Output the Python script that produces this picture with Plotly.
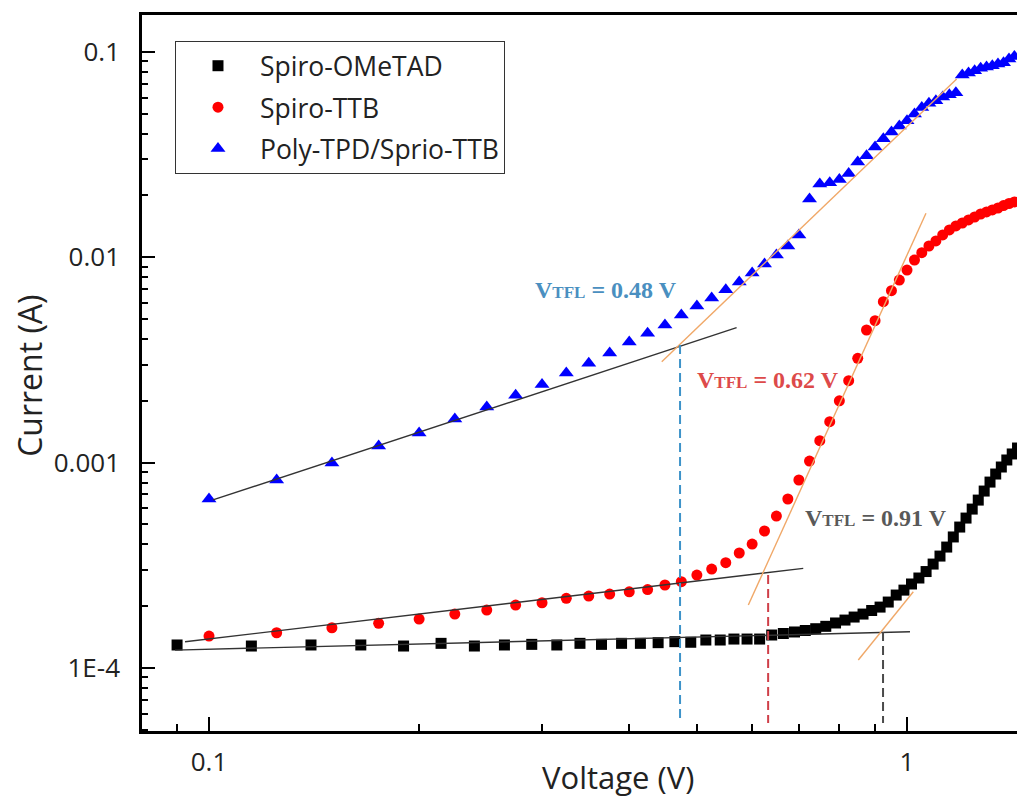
import math
import plotly.graph_objects as go

# ---------------- data ----------------
V_spiro = [0.09, 0.115, 0.14, 0.165, 0.19, 0.215, 0.24, 0.265, 0.29, 0.315, 0.34, 0.365, 0.39, 0.415,
           0.44, 0.465, 0.49, 0.515, 0.54, 0.565, 0.59, 0.615, 0.64, 0.665, 0.69, 0.715, 0.74, 0.765,
           0.79, 0.815, 0.84, 0.865, 0.89, 0.915, 0.94, 0.965, 0.99, 1.015, 1.04, 1.065, 1.09, 1.115,
           1.14, 1.165, 1.19, 1.215, 1.24, 1.265, 1.29, 1.315, 1.34, 1.365, 1.39, 1.415, 1.44]
I_spiro = [1.294e-4, 1.279e-4, 1.294e-4, 1.294e-4, 1.279e-4, 1.318e-4, 1.279e-4, 1.294e-4, 1.303e-4,
           1.294e-4, 1.318e-4, 1.303e-4, 1.318e-4, 1.318e-4, 1.328e-4, 1.343e-4, 1.334e-4, 1.368e-4,
           1.368e-4, 1.383e-4, 1.383e-4, 1.383e-4, 1.447e-4, 1.472e-4, 1.497e-4, 1.522e-4, 1.553e-4,
           1.595e-4, 1.656e-4, 1.711e-4, 1.770e-4, 1.830e-4, 1.905e-4, 1.979e-4, 2.094e-4, 2.265e-4,
           2.394e-4, 2.564e-4, 2.742e-4, 2.948e-4, 3.206e-4, 3.507e-4, 3.88e-4, 4.345e-4, 4.856e-4,
           5.37e-4, 5.94e-4, 6.57e-4, 7.27e-4, 8.04e-4, 8.80e-4, 9.52e-4, 1.030e-3, 1.102e-3, 1.178e-3]

V_ttb = [0.1, 0.125, 0.15, 0.175, 0.2, 0.225, 0.25, 0.275, 0.3, 0.325, 0.35, 0.375, 0.4, 0.425, 0.45,
         0.475, 0.5, 0.525, 0.55, 0.575, 0.6, 0.625, 0.65, 0.675, 0.7, 0.725, 0.75, 0.775, 0.8, 0.825,
         0.85, 0.875, 0.9, 0.925, 0.95, 0.975, 1.0, 1.025, 1.05, 1.075, 1.1, 1.125, 1.15, 1.175, 1.2,
         1.225, 1.25, 1.275, 1.3, 1.325, 1.35, 1.375, 1.4, 1.425]
I_ttb = [1.430e-4, 1.484e-4, 1.570e-4, 1.650e-4, 1.730e-4, 1.830e-4, 1.914e-4, 2.025e-4, 2.078e-4,
         2.183e-4, 2.24e-4, 2.29e-4, 2.35e-4, 2.41e-4, 2.535e-4, 2.63e-4, 2.835e-4, 3.03e-4, 3.255e-4,
         3.63e-4, 4.01e-4, 4.645e-4, 5.495e-4, 6.65e-4, 8.23e-4, 1.018e-3, 1.279e-3, 1.582e-3, 2.001e-3,
         2.506e-3, 3.22e-3, 4.425e-3, 4.91e-3, 6.08e-3, 6.88e-3, 7.75e-3, 8.67e-3, 9.70e-3, 1.053e-2,
         1.135e-2, 1.201e-2, 1.285e-2, 1.359e-2, 1.421e-2, 1.469e-2, 1.520e-2, 1.571e-2, 1.625e-2,
         1.663e-2, 1.700e-2, 1.738e-2, 1.787e-2, 1.828e-2, 1.860e-2]

V_poly = list(V_ttb)
I_poly = [6.65e-4, 8.22e-4, 9.95e-4, 1.205e-3, 1.394e-3, 1.63e-3, 1.866e-3, 2.13e-3, 2.40e-3, 2.73e-3,
          3.05e-3, 3.42e-3, 3.87e-3, 4.27e-3, 4.68e-3, 5.24e-3, 5.79e-3, 6.34e-3, 6.94e-3, 7.59e-3,
          8.39e-3, 9.28e-3, 1.026e-2, 1.135e-2, 1.285e-2, 1.923e-2, 2.275e-2, 2.308e-2, 2.393e-2,
          2.559e-2, 2.912e-2, 3.126e-2, 3.44e-2, 3.78e-2, 4.076e-2, 4.36e-2, 4.63e-2, 4.99e-2, 5.37e-2,
          5.62e-2, 5.78e-2, 6.04e-2, 6.19e-2, 6.33e-2, 7.73e-2, 7.90e-2, 8.10e-2, 8.32e-2, 8.45e-2,
          8.57e-2, 8.74e-2, 8.86e-2, 9.25e-2, 9.51e-2]

# fitted lines (two end points each)
fit_poly_ohm_V = [0.1013, 0.570]
fit_poly_ohm_I = [6.58e-4, 4.54e-3]
fit_poly_tfl_V = [0.4453, 1.178]
fit_poly_tfl_I = [3.101e-3, 7.387e-2]
fit_ttb_ohm_V = [0.0924, 0.7101]
fit_ttb_ohm_I = [1.341e-4, 3.055e-4]
fit_ttb_tfl_V = [0.5925, 1.0646]
fit_ttb_tfl_I = [2.025e-4, 1.638e-2]
fit_spiro_ohm_V = [0.0894, 1.0099]
fit_spiro_ohm_I = [1.222e-4, 1.501e-4]
fit_spiro_tfl_V = [0.8516, 1.021]
fit_spiro_tfl_I = [1.093e-4, 2.35e-4]

# V_TFL markers
vtfl_V = [0.473, 0.6325, 0.924]
vtfl_top = [3.74e-3, 2.835e-4, 1.496e-4]
vtfl_bottom = 5.4e-5
vtfl_labels = ["0.48", "0.62", "0.91"]
vtfl_label_V = [0.3706, 0.6332, 0.9013]
vtfl_label_I = [6.93e-3, 2.526e-3, 5.375e-4]
vtfl_colors = ["#3d93c9", "#cf3f48", "#4a4a4a"]
vtfl_text_colors = ["#4a8fc0", "#dd4a4a", "#595959"]

x_major = [0.1, 1]
x_major_text = ["0.1", "1"]
x_minor = [0.09, 0.2, 0.3, 0.4, 0.5, 0.6, 0.7, 0.8, 0.9]
y_major = [1e-4, 1e-3, 1e-2, 1e-1]
y_major_text = ["1E-4", "0.001", "0.01", "0.1"]
y_minor = [m * 10.0 ** e for e in (-5, -4, -3, -2) for m in range(2, 10) if 5e-5 <= m * 10.0 ** e <= 0.15]

FONT = "Open Sans"

fig = go.Figure()

fig.add_trace(go.Scatter(x=V_spiro, y=I_spiro, mode="markers", name="Spiro-OMeTAD", legendgroup="a",
                         marker=dict(symbol="square", size=11, color="black")))
fig.add_trace(go.Scatter(x=V_ttb, y=I_ttb, mode="markers", name="Spiro-TTB", legendgroup="b",
                         marker=dict(symbol="circle", size=11, color="#ff0000")))
fig.add_trace(go.Scatter(x=V_poly, y=I_poly, mode="markers", name="Poly-TPD/Sprio-TTB", legendgroup="c",
                         marker=dict(symbol="triangle-up", size=13, color="#0000ff")))

for xv, yv, col in [(fit_poly_ohm_V, fit_poly_ohm_I, "#333333"),
                    (fit_poly_tfl_V, fit_poly_tfl_I, "#f0a868"),
                    (fit_ttb_ohm_V, fit_ttb_ohm_I, "#333333"),
                    (fit_ttb_tfl_V, fit_ttb_tfl_I, "#f0a868"),
                    (fit_spiro_ohm_V, fit_spiro_ohm_I, "#333333"),
                    (fit_spiro_tfl_V, fit_spiro_tfl_I, "#f0a868")]:
    fig.add_trace(go.Scatter(x=xv, y=yv, mode="lines", showlegend=False, hoverinfo="skip",
                             line=dict(color=col, width=1.4)))

for v, top, col in zip(vtfl_V, vtfl_top, vtfl_colors):
    fig.add_trace(go.Scatter(x=[v, v], y=[top, vtfl_bottom], mode="lines", showlegend=False,
                             hoverinfo="skip", line=dict(color=col, width=2, dash="9px,5px")))

annotations = []
for lab, lv, li, col in zip(vtfl_labels, vtfl_label_V, vtfl_label_I, vtfl_text_colors):
    annotations.append(dict(
        x=math.log10(lv), y=math.log10(li), xref="x", yref="y", showarrow=False,
        text=f"<b>V<span style='font-size:17px'>TFL</span> = {lab} V</b>",
        font=dict(family="Liberation Serif", size=24, color=col),
        xanchor="center", yanchor="middle"))

annotations.append(dict(x=0.544, y=-0.064, xref="paper", yref="paper", showarrow=False,
                        text="Voltage (V)", font=dict(family=FONT, size=31, color="#222"),
                        xanchor="center", yanchor="middle"))
annotations.append(dict(x=-0.128, y=0.496, xref="paper", yref="paper", showarrow=False,
                        text="Current (A)", textangle=-90, font=dict(family=FONT, size=32, color="#222"),
                        xanchor="center", yanchor="middle"))

fig.update_layout(
    width=1017, height=800,
    margin=dict(l=142, r=0, t=15, b=69),
    paper_bgcolor="white", plot_bgcolor="white",
    font=dict(family=FONT, color="#222"),
    showlegend=True,
    legend=dict(x=0.0377, y=0.9637, xanchor="left", yanchor="top",
                bordercolor="#333", borderwidth=1, bgcolor="white",
                font=dict(family=FONT, size=26.5, color="#222"),
                itemwidth=74, tracegroupgap=4),
    annotations=annotations,
    xaxis=dict(type="log", range=[-1.096, 0.1576], showgrid=False, zeroline=False,
               showline=True, linecolor="black", linewidth=2.5, mirror=True,
               tickmode="array", tickvals=x_major, ticktext=x_major_text,
               ticks="inside", ticklen=14, tickwidth=2.2, tickcolor="black",
               tickfont=dict(family=FONT, size=26, color="#222"), ticklabelstandoff=6,
               minor=dict(tickmode="array", tickvals=x_minor, ticks="inside", ticklen=7,
                          tickwidth=2.2, tickcolor="black", showgrid=False)),
    yaxis=dict(type="log", range=[-4.307, -0.82], showgrid=False, zeroline=False,
               showline=True, linecolor="black", linewidth=2.5, mirror=False,
               tickmode="array", tickvals=y_major, ticktext=y_major_text,
               ticks="inside", ticklen=13, tickwidth=2.2, tickcolor="black",
               tickfont=dict(family=FONT, size=26, color="#222"), ticklabelstandoff=14,
               minor=dict(tickmode="array", tickvals=y_minor, ticks="inside", ticklen=6,
                          tickwidth=2.2, tickcolor="black", showgrid=False)),
)

fig.write_html("out.html")
